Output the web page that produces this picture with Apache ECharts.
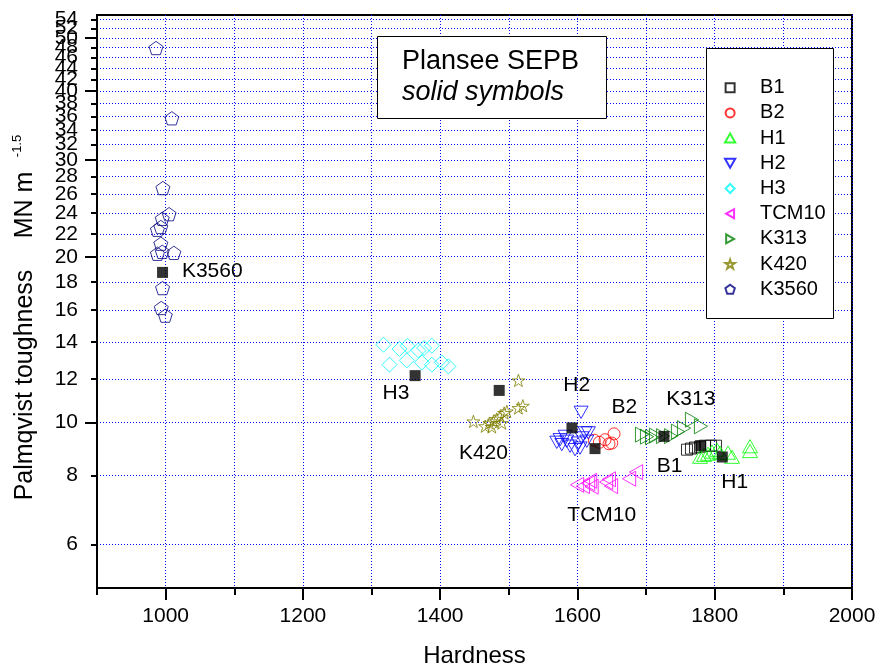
<!DOCTYPE html>
<html>
<head>
<meta charset="utf-8">
<script src="https://cdn.jsdelivr.net/npm/echarts@6/dist/echarts.min.js"></script>
<style>
  html, body { margin: 0; padding: 0; background: #fff; }
  #chart { width: 882px; height: 672px; }
</style>
</head>
<body>
<div id="chart"></div>
<script>
// Hardness vs Palmqvist toughness (MN m^-1.5), one hollow-symbol series per grade
const B1    = [[1759.6, 8.92], [1765.4, 8.96], [1771.3, 9.00], [1778.6, 9.03], [1785.9, 9.07], [1794.6, 9.07], [1801.9, 9.07]];
const B2    = [[1624.6, 9.28], [1631.9, 9.20], [1640.2, 9.30], [1646.0, 9.14], [1650.0, 9.17], [1653.3, 9.53]];
const H1    = [[1778.6, 8.66], [1784.4, 8.73], [1790.2, 8.77], [1796.0, 8.85], [1803.3, 8.92], [1807.7, 8.81],
               [1819.3, 8.81], [1825.2, 8.66], [1851.4, 9.05], [1851.4, 8.87]];
const H2    = [[1569.9, 9.20], [1577.2, 9.11], [1584.4, 9.24], [1589.2, 9.05], [1596.5, 8.92], [1601.3, 9.17],
               [1606.3, 9.37], [1611.1, 9.57], [1613.6, 9.24], [1582.0, 9.43], [1574.7, 9.30], [1603.8, 8.98],
               [1615.9, 9.57], [1605.3, 10.43]];
const H3    = [[1317.4, 13.84], [1340.7, 13.59], [1352.3, 13.78], [1368.3, 13.51], [1376.6, 13.65], [1387.8, 13.78],
               [1326.1, 12.73], [1351.4, 12.96], [1373.3, 12.85], [1387.8, 12.73], [1402.4, 12.85], [1412.0, 12.64]];
const TCM10 = [[1599.4, 7.70], [1608.0, 7.66], [1615.5, 7.75], [1620.6, 7.64], [1618.4, 7.83], [1641.7, 7.79],
               [1645.8, 7.88], [1648.9, 7.66], [1675.2, 7.90], [1685.4, 8.12]];
const K313  = [[1694.1, 9.50], [1701.4, 9.42], [1708.7, 9.40], [1714.5, 9.46], [1724.7, 9.44], [1736.3, 9.44],
               [1746.5, 9.62], [1755.3, 9.76], [1766.9, 10.11], [1780.0, 9.84]];
const K420  = [[1448.4, 10.04], [1465.5, 9.84], [1471.7, 9.97], [1475.2, 9.81], [1477.6, 10.04], [1482.5, 10.14],
               [1487.3, 10.25], [1489.8, 9.97], [1493.2, 10.40], [1497.1, 10.47], [1514.0, 10.62], [1520.4, 10.72],
               [1514.0, 11.92]];
const K3560 = [[986, 47.9], [1009, 35.7], [996, 26.66], [1005, 23.9], [995, 23.44], [993, 22.65], [988, 22.39],
               [993, 21.12], [988, 20.25], [995, 20.42], [1012, 20.33], [995.5, 17.54], [993.6, 16.14], [999.5, 15.63]];

// Plansee SEPB reference grades (solid symbols)
const SEPB = [[995.5, 18.73], [1363.5, 12.16], [1486, 11.43], [1592, 9.77], [1625.6, 8.96],
              [1726, 9.43], [1779.6, 9.07], [1811, 8.65]];

// grade names written next to each cluster: [hardness, toughness, name]
const TAGS = [[1067.9, 18.86, 'K3560'], [1335.6, 11.31, 'H3'], [1463, 8.80, 'K420'], [1599, 11.685, 'H2'],
              [1668.2, 10.66, 'B2'], [1765.2, 11.04, 'K313'], [1734.1, 8.31, 'B1'], [1829.2, 7.78, 'H1'],
              [1635.4, 6.77, 'TCM10']];

// axis ranges and ticks
const X_MIN = 900, X_MAX = 2000;
const Y_MIN = 5, Y_MAX = 55;
const Y_LABELS = [6, 8, 10, 12, 14, 16, 18, 20, 22, 24, 26, 28, 30, 32, 34, 36, 38, 40, 42, 44, 46, 48, 50, 52, 54];
const Y_MAJOR  = [10, 20, 30, 40, 50];
const X_LABELS = [1000, 1200, 1400, 1600, 1800, 2000];

const FONT = '"Liberation Sans", Arial, sans-serif';

// hollow marker outlines
const SYM = {
  square:   'path://M0,0L100,0L100,100L0,100Z',
  circle:   'path://M50,0A50,50,0,1,1,50,100A50,50,0,1,1,50,0Z',
  up:       'path://M50,0L100,88L0,88Z',
  down:     'path://M0,0L100,0L50,88Z',
  diamond:  'path://M50,0L100,50L50,100L0,50Z',
  left:     'path://M0,50L88,0L88,100Z',
  right:    'path://M0,0L88,50L0,100Z',
  star:     'path://M0,-100L22.5,-30.9L95.1,-30.9L36.3,11.8L58.8,80.9L0,38.2L-58.8,80.9L-36.3,11.8L-95.1,-30.9L-22.5,-30.9Z',
  pentagon: 'path://M0,-100L95.1,-30.9L58.8,80.9L-58.8,80.9L-95.1,-30.9Z'
};

function hollow(name, data, symbol, color, size) {
  return {
    name: name, type: 'scatter', data: data,
    symbol: symbol, symbolSize: size, symbolKeepAspect: true,
    itemStyle: { color: 'rgba(0,0,0,0)', borderColor: color, borderWidth: 1 },
    emphasis: { disabled: true },
    z: 3
  };
}

const grid = { left: 97, top: 15, width: 755, height: 573, show: true, borderColor: '#000', borderWidth: 2,
               outerBoundsMode: 'none' };

const dotted = { color: '#0000ff', width: 1, type: [1, 2] };
const tickLine = { color: '#000', width: 2 };

// extra log axis carrying only ticks
function yTicks(values, len) {
  return {
    type: 'log', logBase: 10, min: Y_MIN, max: Y_MAX, position: 'left', offset: 0,
    axisLine: { show: false },
    axisTick: { customValues: values, length: len, lineStyle: tickLine },
    axisLabel: { show: false },
    splitLine: { show: false }
  };
}

const option = {
  animation: false,
  backgroundColor: '#fff',
  grid: grid,
  xAxis: [
    {
      type: 'value', min: X_MIN, max: X_MAX, interval: 100,
      axisLine: { lineStyle: { color: '#000', width: 2 } },
      axisTick: { inside: false, length: 7, lineStyle: tickLine },
      axisLabel: { customValues: X_LABELS, formatter: v => String(v), color: '#000', fontSize: 21,
                   fontFamily: FONT, margin: 18, showMaxLabel: true, showMinLabel: true },
      splitLine: { show: true, lineStyle: dotted },
      name: 'Hardness', nameLocation: 'middle', nameGap: 56,
      nameTextStyle: { color: '#000', fontSize: 24, fontFamily: FONT }
    },
    {
      type: 'value', min: X_MIN, max: X_MAX, position: 'bottom', offset: 0,
      axisLine: { show: false },
      axisTick: { customValues: X_LABELS, length: 12, lineStyle: tickLine },
      axisLabel: { show: false },
      splitLine: { show: false }
    }
  ],
  yAxis: [
    {
      type: 'log', logBase: 10, min: Y_MIN, max: Y_MAX,
      axisLine: { lineStyle: { color: '#000', width: 2 } },
      axisTick: { show: false, customValues: Y_LABELS },
      // a blank label at the axis end absorbs the end-label overlap check, so 54 stays
      axisLabel: { customValues: Y_LABELS.concat([Y_MAX]), formatter: v => (v >= Y_MAX ? ' ' : String(v)),
                   color: '#000', fontSize: 21, fontFamily: FONT, margin: 19, hideOverlap: false },
      splitLine: { show: true, lineStyle: dotted },
      minorTick: { show: false }
    },
    yTicks(Y_MAJOR, 12),
    yTicks(Y_LABELS, 6)
  ],
  legend: {
    data: ['B1', 'B2', 'H1', 'H2', 'H3', 'TCM10', 'K313', 'K420', 'K3560'],
    orient: 'vertical', left: 724, top: 77.7, padding: 0,
    itemWidth: 50, itemHeight: 9, itemGap: 5.2, symbolKeepAspect: true,
    selectedMode: false,
    textStyle: { color: '#000', fontSize: 20, lineHeight: 20, fontFamily: FONT },
    z: 6
  },
  graphic: [
    { type: 'rect', x: 706.5, y: 48.5, z: 5, shape: { width: 127, height: 270 },
      style: { fill: '#fff', stroke: '#000', lineWidth: 1 } },
    { type: 'rect', x: 377.5, y: 36.5, z: 5, shape: { width: 229, height: 82 },
      style: { fill: '#fff', stroke: '#000', lineWidth: 1 } },
    { type: 'text', x: 402, y: 61.3, z: 6,
      style: { text: 'Plansee SEPB', fill: '#000', font: '27px ' + FONT, align: 'left', verticalAlign: 'middle' } },
    { type: 'text', x: 402, y: 92.3, z: 6,
      style: { text: 'solid symbols', fill: '#000', font: 'italic 27px ' + FONT, align: 'left', verticalAlign: 'middle' } },
    { type: 'text', x: 25, y: 385, rotation: Math.PI / 2, z: 6,
      style: { text: 'Palmqvist toughness', fill: '#000', font: '25px ' + FONT, align: 'center', verticalAlign: 'middle' } },
    { type: 'text', x: 25, y: 205, rotation: Math.PI / 2, z: 6,
      style: { text: 'MN m', fill: '#000', font: '25px ' + FONT, align: 'center', verticalAlign: 'middle' } },
    { type: 'text', x: 17.5, y: 146, rotation: Math.PI / 2, z: 6,
      style: { text: '-1.5', fill: '#000', font: '13px ' + FONT, align: 'center', verticalAlign: 'middle' } }
  ],
  series: [
    hollow('B1', B1, SYM.square, '#000000', 11),
    hollow('B2', B2, SYM.circle, '#ff0000', 12),
    hollow('H1', H1, SYM.up, '#00ff00', 15),
    hollow('H2', H2, SYM.down, '#0000ff', 14),
    hollow('H3', H3, SYM.diamond, '#00ffff', 15),
    hollow('TCM10', TCM10, SYM.left, '#ff00ff', 15),
    hollow('K313', K313, SYM.right, '#008000', 15),
    hollow('K420', K420, SYM.star, '#808000', 13),
    hollow('K3560', K3560, SYM.pentagon, '#000080', 14),
    {
      name: 'Plansee SEPB', type: 'scatter', data: SEPB,
      symbol: 'rect', symbolSize: 11,
      itemStyle: { color: '#000' }, emphasis: { disabled: true }, z: 4
    },
    {
      name: 'tags', type: 'scatter', data: TAGS,
      symbolSize: 1, itemStyle: { color: 'rgba(0,0,0,0)' }, silent: true, z: 5,
      label: { show: true, position: 'inside', formatter: p => p.data[2], opacity: 1,
               color: '#000', textBorderWidth: 0, fontSize: 21, fontFamily: FONT }
    }
  ]
};

const chart = echarts.init(document.getElementById('chart'), null, { renderer: 'canvas' });
chart.setOption(option);
</script>
</body>
</html>
